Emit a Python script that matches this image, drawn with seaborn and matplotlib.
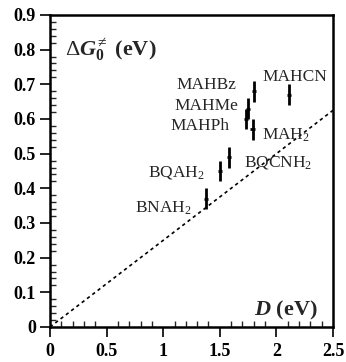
import numpy as np
import pandas as pd
import matplotlib
matplotlib.use("Agg")
import matplotlib.pyplot as plt
import seaborn as sns
from matplotlib.ticker import MultipleLocator

# data
names = ["BNAH$_2$", "BQAH$_2$", "BQCNH$_2$", "MAHPh", "MAHMe", "MAH$_2$", "MAHBz", "MAHCN"]
D_ev = [1.38, 1.50, 1.58, 1.73, 1.75, 1.79, 1.80, 2.11]
dG_ev = [0.37, 0.45, 0.49, 0.60, 0.63, 0.57, 0.68, 0.67]
x_err = [0.02, 0.02, 0.02, 0.02, 0.02, 0.02, 0.02, 0.02]
y_err = [0.03, 0.03, 0.03, 0.03, 0.03, 0.03, 0.03, 0.03]
# label anchors (x, y, alignment)
label_x = [1.25, 1.37, 1.71, 1.59, 1.66, 1.87, 1.65, 1.88]
label_y = [0.343, 0.447, 0.473, 0.580, 0.637, 0.554, 0.698, 0.721]
label_ha = ["right", "right", "left", "right", "right", "left", "right", "left"]
line_x = [0.0, 2.5]
slope = 0.25
xticks = [0, 0.5, 1, 1.5, 2, 2.5]
xtick_labels = ["0", "0.5", "1", "1.5", "2", "2.5"]
yticks = [0, 0.1, 0.2, 0.3, 0.4, 0.5, 0.6, 0.7, 0.8, 0.9]
ytick_labels = ["0", "0.1", "0.2", "0.3", "0.4", "0.5", "0.6", "0.7", "0.8", "0.9"]

df = pd.DataFrame({"name": names, "D": D_ev, "dG": dG_ev})

sns.set_theme(style="ticks")
plt.rcParams["font.family"] = ["Liberation Serif", "DejaVu Serif"]
plt.rcParams["mathtext.fontset"] = "custom"
plt.rcParams["mathtext.rm"] = "Liberation Serif"
plt.rcParams["mathtext.it"] = "Liberation Serif:italic"
plt.rcParams["mathtext.bf"] = "Liberation Serif:bold"
plt.rcParams["mathtext.bfit"] = "Liberation Serif:bold:italic"

fig = plt.figure(figsize=(3.46, 3.62), dpi=100)
ax = fig.add_axes([0.1445, 0.0967, 0.818, 0.862])

# dotted line D/4
sns.lineplot(x=line_x, y=[slope * v for v in line_x], ax=ax,
             color="black", linestyle=(0, (2, 2)), linewidth=1.2)

ax.errorbar(df["D"], df["dG"], xerr=x_err, yerr=y_err, fmt="none",
            ecolor="black", elinewidth=2, capsize=0)

for n, lx, ly, ha in zip(names, label_x, label_y, label_ha):
    ax.text(lx, ly, n, ha=ha, va="center", fontsize=12.5)

ax.text(0.13, 0.80, r"$\Delta\mathbfit{G}_{\mathbf{0}}^{\neq}$ (eV)",
        fontsize=16, fontweight="bold", va="center", ha="left")
ax.text(2.36, 0.049, r"$\mathbfit{D}$ (eV)", fontsize=16, fontweight="bold",
        va="center", ha="right")

ax.set_xlim(0, 2.5)
ax.set_ylim(0, 0.9)
ax.xaxis.set_minor_locator(MultipleLocator(0.1))
ax.yaxis.set_minor_locator(MultipleLocator(0.02))
ax.set_xticks(xticks)
ax.set_xticklabels(xtick_labels)
ax.set_yticks(yticks)
ax.set_yticklabels(ytick_labels)
ax.tick_params(which="major", direction="out", length=7, width=1.2,
               labelsize=13, colors="black", pad=3)
ax.tick_params(axis="x", which="major", pad=4.5)
ax.tick_params(which="minor", direction="in", length=4.5, width=1)
for lab in ax.get_xticklabels() + ax.get_yticklabels():
    lab.set_fontweight("bold")
for s in ax.spines.values():
    s.set_linewidth(1.8)
    s.set_color("black")
ax.set_xlabel("")
ax.set_ylabel("")

fig.savefig("out.png", dpi=100)
